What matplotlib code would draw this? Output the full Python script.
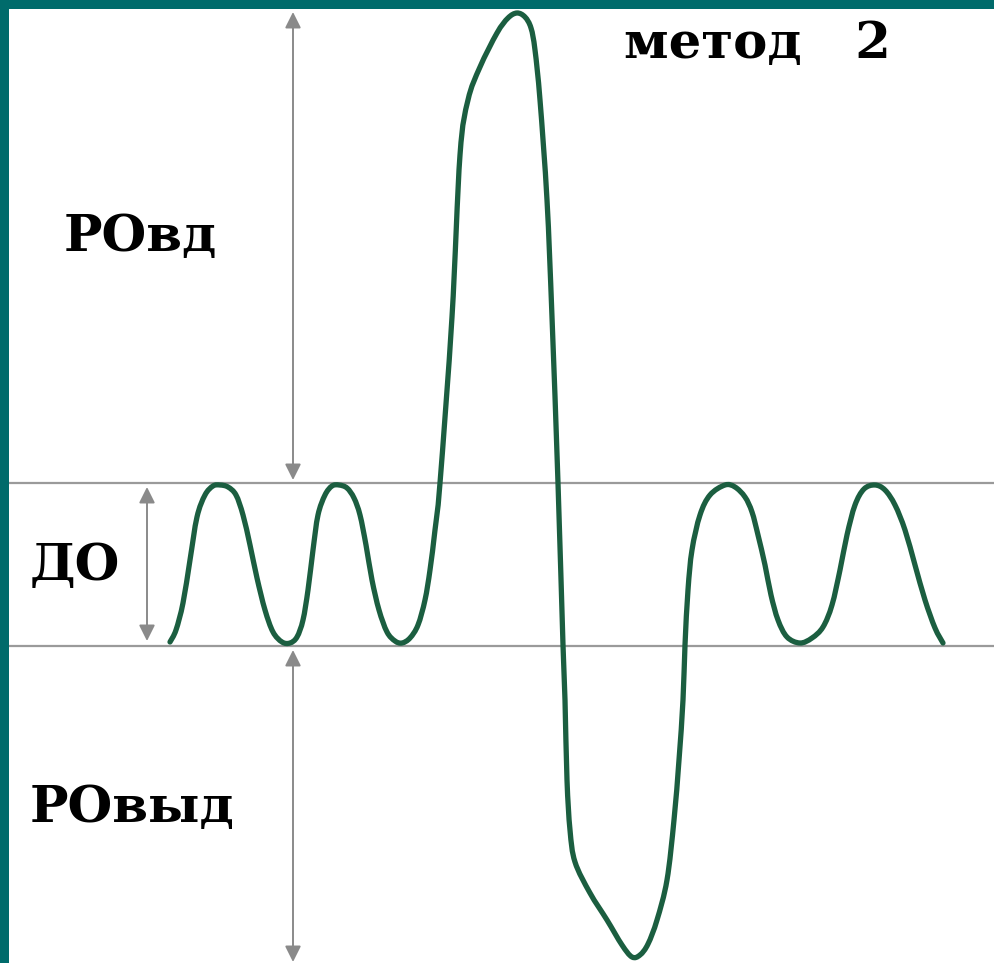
import numpy as np
import matplotlib.pyplot as plt
from matplotlib.path import Path
from matplotlib.patches import PathPatch

# Спирограмма (координаты: время -> объём, ось y вниз)
t = [170, 176, 183, 190, 197, 205, 213, 220, 228, 236, 243, 250, 257, 265, 273, 282, 290,
     297, 303, 308, 313, 318, 325, 332, 339, 347, 354, 360, 366, 372, 379, 387, 395, 402,
     410, 418, 425, 430, 435, 440, 452, 460, 468, 480, 497, 508, 517, 525, 531, 535, 540, 547,
     552, 558, 563, 565, 567, 570, 575, 590, 607, 622, 632, 640, 648, 657, 667, 674, 679,
     683, 685, 688, 692, 700, 710, 725, 735, 745, 752, 758, 765, 771, 778, 787, 800, 812,
     823, 832, 840, 847, 855, 864, 875, 885, 895, 905, 915, 925, 935, 943]
v = [642, 630, 603, 560, 517, 495, 486, 485, 487, 495, 515, 545, 578, 610, 632, 642, 643,
     637, 620, 590, 550, 515, 495, 486, 485, 488, 498, 515, 545, 580, 610, 632, 641, 643,
     638, 625, 600, 570, 530, 483, 317, 155, 100, 67, 33, 18, 13, 17, 28, 50, 100, 200,
     317, 483, 645, 700, 780, 830, 862, 893, 920, 945, 957, 955, 944, 920, 880, 820, 760,
     700, 645, 590, 550, 515, 495, 485, 487, 497, 512, 535, 565, 595, 620, 637, 643, 638,
     627, 605, 570, 535, 505, 489, 485, 490, 505, 530, 565, 600, 628, 643]

uroven_vdoh = 483   # верх дыхательного объёма
uroven_vydoh = 646  # низ дыхательного объёма

subpisi = ['РОвд', 'ДО', 'РОвыд', 'метод   2']

fig = plt.figure(figsize=(9.94, 9.63), dpi=100, facecolor='#006b6b')
ax = fig.add_axes([9 / 994, 0, 985 / 994, 954 / 963])
ax.set_facecolor('white')
ax.set_xlim(9, 994)
ax.set_ylim(963, 9)
ax.axis('off')
ax.add_patch(plt.Rectangle((9, 9), 985, 954, color='white', zorder=0))

# горизонтальные линии
for y in (uroven_vdoh, uroven_vydoh):
    ax.axhline(y, color='#9a9a9a', lw=1.6, zorder=1)

# кривая: гладкий путь через точки (Catmull-Rom -> Безье)
pts = np.column_stack([t, v]).astype(float)
verts = [pts[0]]
codes = [Path.MOVETO]
for i in range(len(pts) - 1):
    p0 = pts[i - 1] if i > 0 else pts[i]
    p1, p2 = pts[i], pts[i + 1]
    p3 = pts[i + 2] if i + 2 < len(pts) else pts[i + 1]
    verts += [p1 + (p2 - p0) / 6, p2 - (p3 - p1) / 6, p2]
    codes += [Path.CURVE4] * 3
ax.add_patch(PathPatch(Path(verts, codes), fill=False, edgecolor='#1b5e40', lw=3.8,
                       capstyle='round', joinstyle='round', zorder=3))

# стрелки
strelka = dict(arrowstyle='<|-|>,head_length=0.6,head_width=0.3', color='#8a8a8a',
               lw=1.4, shrinkA=0, shrinkB=0, mutation_scale=16)
ax.annotate('', xy=(293, 12), xytext=(293, 480), arrowprops=strelka)
ax.annotate('', xy=(147, 487), xytext=(147, 641), arrowprops=strelka)
ax.annotate('', xy=(293, 650), xytext=(293, 962), arrowprops=strelka)

shrift = dict(family='DejaVu Serif', weight='bold', color='black', fontsize=37,
              va='center', ha='left')
ax.text(64, 238, subpisi[0], **shrift)
ax.text(30, 566, subpisi[1], **shrift)
ax.text(30, 808, subpisi[2], **shrift)
ax.text(624, 45, subpisi[3], **shrift)

fig.savefig('out.png', dpi=100, facecolor=fig.get_facecolor())
